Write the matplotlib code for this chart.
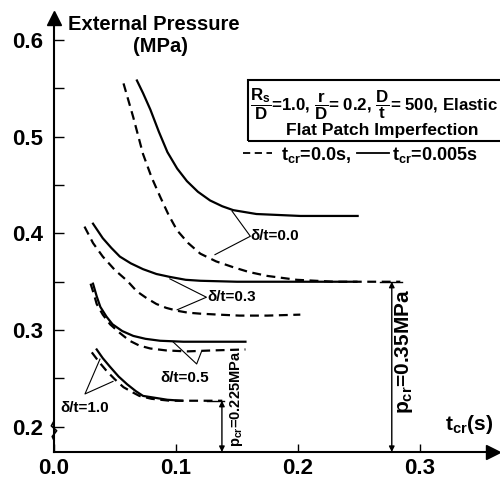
import matplotlib
matplotlib.use("Agg")
import matplotlib.pyplot as plt
from matplotlib.patches import Rectangle
from matplotlib.lines import Line2D
from matplotlib.transforms import blended_transform_factory

plt.rcParams['font.family'] = ['Liberation Sans', 'DejaVu Sans']
plt.rcParams['font.weight'] = 'bold'
plt.rcParams['mathtext.fontset'] = 'custom'
plt.rcParams['mathtext.rm'] = 'Liberation Sans:bold'
plt.rcParams['mathtext.it'] = 'Liberation Sans:bold'
plt.rcParams['mathtext.bf'] = 'Liberation Sans:bold'

# curves: s = t_cr 0.005 s (solid), d = t_cr 0.0 s (dashed)
s00_x = [0.068, 0.073, 0.079, 0.086, 0.093, 0.101, 0.109, 0.118, 0.128, 0.138, 0.147, 0.166, 0.202, 0.249]
s00_y = [0.558, 0.545, 0.528, 0.505, 0.484, 0.467, 0.454, 0.443, 0.434, 0.428, 0.424, 0.420, 0.418, 0.418]
d00_x = [0.057, 0.065, 0.073, 0.080, 0.087, 0.094, 0.101, 0.110, 0.120, 0.133, 0.147, 0.160, 0.175, 0.199, 0.230, 0.260, 0.284]
d00_y = [0.555, 0.520, 0.482, 0.458, 0.438, 0.419, 0.403, 0.390, 0.379, 0.371, 0.365, 0.360, 0.356, 0.352, 0.350, 0.350, 0.350]

s03_x = [0.032, 0.040, 0.047, 0.054, 0.063, 0.073, 0.084, 0.095, 0.108, 0.120, 0.150, 0.200, 0.248]
s03_y = [0.410, 0.395, 0.385, 0.376, 0.369, 0.363, 0.358, 0.355, 0.352, 0.351, 0.350, 0.350, 0.350]
d03_x = [0.025, 0.032, 0.040, 0.050, 0.060, 0.068, 0.076, 0.084, 0.092, 0.101, 0.110, 0.120, 0.135, 0.152, 0.175, 0.202]
d03_y = [0.407, 0.390, 0.376, 0.362, 0.351, 0.340, 0.333, 0.327, 0.323, 0.320, 0.318, 0.317, 0.316, 0.315, 0.315, 0.316]

s05_x = [0.032, 0.035, 0.038, 0.043, 0.048, 0.056, 0.065, 0.075, 0.087, 0.106, 0.130, 0.157]
s05_y = [0.348, 0.335, 0.324, 0.314, 0.306, 0.299, 0.294, 0.291, 0.289, 0.288, 0.288, 0.288]
d05_x = [0.030, 0.033, 0.035, 0.040, 0.046, 0.054, 0.062, 0.070, 0.079, 0.092, 0.109, 0.130, 0.157]
d05_y = [0.348, 0.336, 0.327, 0.316, 0.306, 0.297, 0.289, 0.284, 0.281, 0.279, 0.278, 0.279, 0.280]

s10_x = [0.035, 0.040, 0.046, 0.053, 0.060, 0.067, 0.073, 0.083, 0.093, 0.105]
s10_y = [0.280, 0.271, 0.262, 0.252, 0.244, 0.237, 0.232, 0.230, 0.228, 0.227]
d10_x = [0.031, 0.037, 0.043, 0.050, 0.057, 0.064, 0.070, 0.080, 0.095, 0.110, 0.125, 0.138]
d10_y = [0.277, 0.267, 0.258, 0.249, 0.241, 0.236, 0.232, 0.229, 0.227, 0.227, 0.227, 0.227]

x_ticks = [0.0, 0.1, 0.2, 0.3]
x_labels = ["0.0", "0.1", "0.2", "0.3"]
y_ticks = [0.2, 0.3, 0.4, 0.5, 0.6]
y_labels = ["0.2", "0.3", "0.4", "0.5", "0.6"]
y_minor = [0.25, 0.35, 0.45, 0.55]

pcr_high = 0.35
pcr_high_t = 0.277
pcr_low = 0.227
pcr_low_t = 0.1377

fig = plt.figure(figsize=(5, 4.8), dpi=100)
ax = fig.add_axes([0.108, 0.0583, 0.878, 0.905])
ax.set_xlim(0, 0.36)
ax.set_ylim(0.174, 0.623)

for sp in ['top', 'right']:
    ax.spines[sp].set_visible(False)
for sp in ['left', 'bottom']:
    ax.spines[sp].set_linewidth(1.5)

ax.set_xticks(x_ticks)
ax.set_xticklabels(x_labels)
ax.set_yticks(y_ticks)
ax.set_yticklabels(y_labels)
ax.set_yticks(y_minor, minor=True)
ax.tick_params(axis='both', which='both', direction='in', width=1.0, labelsize=16)
ax.tick_params(axis='x', which='major', length=6, pad=4)
ax.tick_params(axis='y', which='major', length=7, pad=8)
ax.tick_params(axis='y', which='minor', length=7)

# axis arrow heads
ax.plot(1.0, 0, '>', color='black', markersize=10, transform=ax.transAxes, clip_on=False)
ax.plot(0, 1.0, '^', color='black', markersize=10, transform=ax.transAxes, clip_on=False)

# axis break on y
bt = blended_transform_factory(ax.transAxes, ax.transData)
ax.plot([0, -0.006, 0.006, -0.004, 0.0], [0.206, 0.201, 0.196, 0.190, 0.186],
        color='black', lw=1.2, transform=bt, clip_on=False, zorder=5)

dash = (4, 2.5)
lw = 1.6
ax.plot(s00_x, s00_y, color='black', lw=lw)
ax.plot(d00_x, d00_y, color='black', lw=lw, dashes=dash)
ax.plot(s03_x, s03_y, color='black', lw=lw)
ax.plot(d03_x, d03_y, color='black', lw=lw, dashes=dash)
ax.plot(s05_x, s05_y, color='black', lw=lw)
ax.plot(d05_x, d05_y, color='black', lw=lw, dashes=dash)
ax.plot(s10_x, s10_y, color='black', lw=lw)
ax.plot(d10_x, d10_y, color='black', lw=lw, dashes=dash)

# labels with leader lines
thin = dict(color='black', lw=0.8)
ax.plot([0.146, 0.161, 0.132], [0.423, 0.397, 0.378], **thin)
ax.text(0.161, 0.397, "δ/t=0.0", fontsize=11, va='center', ha='left')
ax.plot([0.095, 0.125, 0.101], [0.353, 0.334, 0.321], **thin)
ax.text(0.126, 0.334, "δ/t=0.3", fontsize=11, va='center', ha='left')
ax.plot([0.0975, 0.117, 0.121], [0.288, 0.265, 0.278], **thin)
ax.text(0.107, 0.251, "δ/t=0.5", fontsize=11, va='center', ha='center')
ax.plot([0.0377, 0.0254, 0.0484], [0.270, 0.234, 0.247], **thin)
ax.text(0.025, 0.220, "δ/t=1.0", fontsize=11, va='center', ha='center')

# critical pressure arrows
arr = dict(arrowstyle='<|-|>', lw=1.0, color='black', mutation_scale=8, shrinkA=0, shrinkB=0)
ax.annotate('', xy=(pcr_high_t, 0.174), xytext=(pcr_high_t, pcr_high), arrowprops=arr)
ax.plot([pcr_high_t - 0.010, pcr_high_t + 0.008], [pcr_high, pcr_high], color='black', lw=1.0)
ax.text(0.287, 0.278, r"p$_{cr}$=0.35MPa", fontsize=15, rotation=90, ha='center', va='center')
ax.annotate('', xy=(pcr_low_t, 0.174), xytext=(pcr_low_t, pcr_low), arrowprops=arr)
ax.plot([pcr_low_t - 0.012, pcr_low_t + 0.002], [pcr_low, pcr_low], color='black', lw=1.0)
ax.text(0.150, 0.229, r"p$_{cr}$=0.225MPa", fontsize=10.5, rotation=90, ha='center', va='center')

# axis titles
fig.text(68 / 500, 1 - 24 / 480, "External Pressure", fontsize=14.5, ha='left', va='center')
fig.text(160 / 500, 1 - 47 / 480, "(MPa)", fontsize=14.5, ha='center', va='center')
fig.text(445 / 500, 1 - 425 / 480, r"t$_{cr}$(s)", fontsize=15, ha='left', va='center')

# parameter box
fig.patches.append(Rectangle((248 / 500, 1 - 141 / 480), 0.6, 61 / 480, transform=fig.transFigure,
                             fill=False, edgecolor='black', lw=1.5, clip_on=False))
fig.text(250 / 500, 1 - 104 / 480,
         r"$\dfrac{R_s}{D}$=1.0, $\dfrac{r}{D}$= 0.2, $\dfrac{D}{t}$= 500, Elastic",
         fontsize=12.2, ha='left', va='center')
fig.text(382 / 500, 1 - 131 / 480, "Flat Patch Imperfection", fontsize=12.5, ha='center', va='center')

# legend row
fig.lines.append(Line2D([243 / 500, 272 / 500], [1 - 153 / 480] * 2, transform=fig.transFigure,
                        color='black', lw=1.3, dashes=(4, 2.5)))
fig.text(281 / 500, 1 - 155 / 480, r"t$_{cr}$=0.0s,", fontsize=13, ha='left', va='center')
fig.lines.append(Line2D([357 / 500, 389 / 500], [1 - 153 / 480] * 2, transform=fig.transFigure,
                        color='black', lw=1.3))
fig.text(392 / 500, 1 - 155 / 480, r"t$_{cr}$=0.005s", fontsize=13, ha='left', va='center')

fig.savefig("out.png", dpi=100)
